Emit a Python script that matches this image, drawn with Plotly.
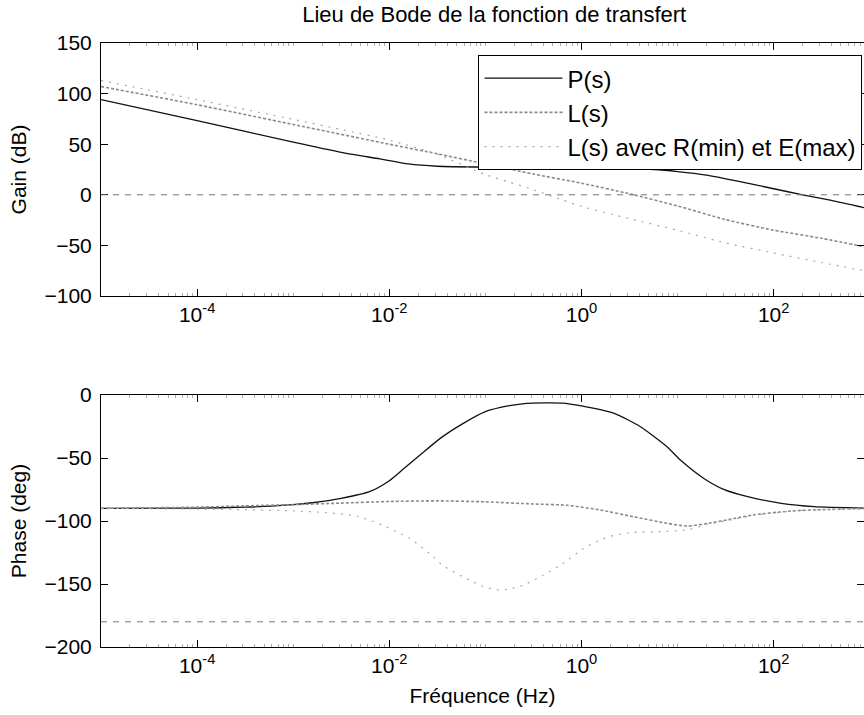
import plotly.graph_objects as go

# ---- Gain (dB) ----
gain_p_freq = [1e-5, 1e-4, 1e-3, 3.16e-3, 7.94e-3, 1.58e-2, 3.16e-2, 0.1, 0.316, 1.0,
               2.51, 5.62, 10.0, 20.0, 39.8, 100.0, 200.0, 398.0, 1000.0]
gain_p = [94, 73.4, 52, 42, 35.5, 30.5, 28.2, 27.4, 27.2, 27.0,
          26.0, 25.0, 23.0, 19.5, 14.0, 6.0, 0.0, -5.5, -14.0]

gain_l_freq = [1e-5, 1e-4, 1e-3, 1e-2, 3.16e-2, 0.1, 0.316, 1.0, 3.16, 10.0,
               31.6, 100.0, 316.0, 1000.0]
gain_l = [107, 89, 69.5, 50, 40.5, 30.5, 20.5, 11.5, 1.0, -11.0,
          -24.5, -35.0, -43.0, -52.5]

gain_r_freq = [1e-5, 1e-4, 1e-3, 3.16e-3, 1e-2, 3.16e-2, 0.1, 0.178, 0.316, 0.631,
               1.0, 3.16, 10.0, 31.6, 100.0, 316.0, 1000.0]
gain_r = [113, 94, 74.5, 64.5, 54, 40, 20, 12.5, 5.0, -5.0,
          -11.5, -23.5, -35.0, -47.5, -57.5, -67.0, -76.0]

# ---- Phase (deg) ----
phase_p_freq = [1e-5, 1e-4, 3.16e-4, 1e-3, 1.58e-3, 3.16e-3, 6.31e-3, 1e-2, 1.41e-2,
                2.09e-2, 3.39e-2, 5.89e-2, 0.1, 0.178, 0.269, 0.631, 1.0, 2.19,
                4.07, 7.76, 10.7, 18.6, 30.2, 53.7, 120.0, 263.0, 1000.0]
phase_p = [-90, -89.8, -89, -87, -85.5, -82, -76.5, -68, -58.5,
           -47.6, -34.4, -22.5, -13.2, -8.5, -6.6, -6.4, -8.7, -14.6,
           -25, -41, -51.6, -66, -74.9, -80.7, -86, -88.6, -89.8]

phase_l_freq = [1e-5, 1e-4, 3.16e-4, 1e-3, 3.16e-3, 1e-2, 3.16e-2, 0.1, 0.316,
                0.708, 1.58, 3.47, 7.76, 12.6, 20.4, 38.9, 63.1, 158.0, 316.0, 1000.0]
phase_l = [-90, -89, -88, -87, -85.8, -84.5, -84, -84.8, -86.5,
           -87.5, -91.3, -96.6, -101.8, -104, -102, -98, -95, -92, -91, -90]

phase_r_freq = [1e-5, 1e-4, 3.16e-4, 1e-3, 2.19e-3, 4.57e-3, 6.46e-3, 8.32e-3, 1.62e-2,
                2.88e-2, 3.55e-2, 6.76e-2, 9.55e-2, 0.132, 0.178, 0.251, 0.398,
                0.646, 1.05, 1.58, 2.19, 3.55, 6.31, 12.6, 20.0, 38.9, 63.1,
                158.0, 316.0, 1000.0]
phase_r = [-90, -90.5, -91, -92, -93.3, -96, -99.8, -103, -113.7,
           -128.3, -135, -146.8, -152, -154.7, -154, -150.8, -143,
           -133.6, -121.8, -115, -111.4, -109, -108.5, -107, -103, -98.5, -95.5,
           -92, -91, -90]

names = ["P(s)", "L(s)", "L(s) avec R(min) et E(max)"]
gain_ticks = [-100, -50, 0, 50, 100, 150]
phase_ticks = [-200, -150, -100, -50, 0]
freq_ticks = [1e-4, 1e-2, 1e0, 1e2]
freq_tick_text = ["10<sup>-4</sup>", "10<sup>-2</sup>", "10<sup>0</sup>", "10<sup>2</sup>"]

FONT = "Liberation Sans, Arial, Helvetica, sans-serif"
styles = [
    dict(color="#111111", width=1.3),
    dict(color="#8a8a8a", width=1.6, dash="3px,2px"),
    dict(color="#a8a8a8", width=1.2, dash="2px,6px"),
]

fig = go.Figure()
series = [
    (gain_p_freq, gain_p, phase_p_freq, phase_p),
    (gain_l_freq, gain_l, phase_l_freq, phase_l),
    (gain_r_freq, gain_r, phase_r_freq, phase_r),
]
for name, style, (gf, gv, pf, pv) in zip(names, styles, series):
    fig.add_trace(go.Scatter(x=gf, y=gv, name=name, mode="lines", line=dict(style, shape="spline", smoothing=0.6),
                             xaxis="x", yaxis="y", legendgroup=name))
    fig.add_trace(go.Scatter(x=pf, y=pv, name=name, mode="lines", line=dict(style, shape="spline", smoothing=0.6),
                             xaxis="x2", yaxis="y2", showlegend=False, legendgroup=name))

# 0 dB and -180 deg reference lines
for yref, level in (("y", 0), ("y2", -180)):
    fig.add_shape(type="line", xref=("x" if yref == "y" else "x2") + " domain", yref=yref,
                  x0=0, x1=1, y0=level, y1=level,
                  line=dict(color="#777777", width=1, dash="6px,6px"))

minor_vals = [m * 10.0 ** k for k in range(-5, 3) for m in range(1, 10)]

xcommon = dict(type="log", range=[-5, 2.94], tickvals=freq_ticks, ticktext=freq_tick_text,
               ticks="inside", ticklen=7, tickcolor="black", showline=True, linecolor="black",
               linewidth=1, mirror="ticks", showgrid=False, zeroline=False,
               tickfont=dict(family=FONT, size=21, color="black"),
               minor=dict(tickvals=minor_vals, ticks="inside", ticklen=3, tickcolor="#aaaaaa"))
ycommon = dict(ticks="inside", ticklen=7, tickcolor="black", showline=True, linecolor="black",
               linewidth=1, mirror="ticks", showgrid=False, zeroline=False,
               tickfont=dict(family=FONT, size=21, color="black"), ticklabelstandoff=4)

fig.update_layout(
    width=864, height=715,
    margin=dict(l=101, r=0, t=43, b=68),
    paper_bgcolor="white", plot_bgcolor="white",
    font=dict(family=FONT, size=21, color="black"),
    title=dict(text="Lieu de Bode de la fonction de transfert", x=0.572, xanchor="center",
               y=0.98, yanchor="middle", font=dict(family=FONT, size=22, color="black")),
    xaxis=dict(xcommon, domain=[0, 1], anchor="y"),
    yaxis=dict(ycommon, domain=[0.5811, 1.0], range=[-100, 150], tickvals=gain_ticks,
               title=dict(text="Gain (dB)", standoff=12, font=dict(family=FONT, size=21))),
    xaxis2=dict(xcommon, domain=[0, 1], anchor="y2",
                title=dict(text="Fréquence (Hz)", standoff=12, font=dict(family=FONT, size=21))),
    yaxis2=dict(ycommon, domain=[0.0, 0.4172], range=[-200, 0], tickvals=phase_ticks,
                title=dict(text="Phase (deg)", standoff=12, font=dict(family=FONT, size=21))),
    legend=dict(x=0.998, xanchor="right", y=0.98, yanchor="top", bgcolor="white",
                bordercolor="black", borderwidth=1, font=dict(family=FONT, size=24),
                tracegroupgap=0, itemwidth=78),
    showlegend=True,
)

fig.write_html("out.html")
